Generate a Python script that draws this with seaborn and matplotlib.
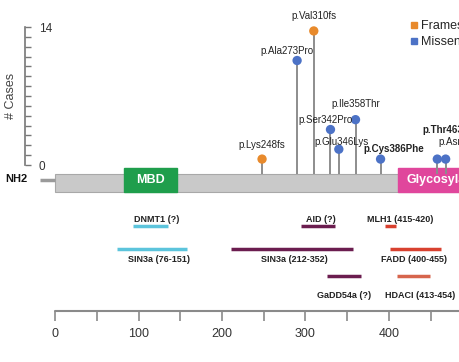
import matplotlib
matplotlib.use("Agg")
import matplotlib.pyplot as plt
from matplotlib.lines import Line2D
import seaborn as sns
import pandas as pd

## mutation data (amino acid position, number of cases)
mut_names = ["p.Lys248fs", "p.Ala273Pro", "p.Val310fs", "p.Ser342Pro", "p.Glu346Lys",
             "p.Ile358Thr", "p.Cys386Phe", "p.Thr463Met", "p.Asn473Ser"]
mut_pos = [248, 290, 310, 330, 340, 360, 390, 458, 468]
mut_cases = [1, 11, 14, 4, 2, 5, 1, 1, 1]
mut_type = ["Frameshift", "Missense", "Frameshift", "Missense", "Missense",
            "Missense", "Missense", "Missense", "Missense"]

## domains
dom_names = ["MBD", "Glycosylase"]
dom_start = [83, 411]
dom_end = [146, 620]

## interaction partners
int_names = ["DNMT1 (?)", "SIN3a (76-151)", "AID (?)", "SIN3a (212-352)", "GaDD54a (?)",
             "MLH1 (415-420)", "FADD (400-455)", "HDACI (413-454)"]
int_start = [93, 74, 295, 211, 326, 395, 401, 410]
int_end = [135, 158, 336, 357, 366, 408, 462, 449]
int_colors = ["#5cc4dc", "#5cc4dc", "#6b1d4f", "#6b1d4f", "#6b1d4f", "#d8412f", "#d8412f", "#d6654d"]

ruler_ticks = [0, 50, 100, 150, 200, 250, 300, 350, 400, 450]
ruler_labels = ["0", "", "100", "", "200", "", "300", "", "400", ""]

W, H = 459, 362
XL = (-66, 484)

sns.set_theme(style="white")
plt.rcParams['font.family'] = ['Liberation Sans', 'DejaVu Sans']

fig = plt.figure(figsize=(W / 100, H / 100), dpi=100)

## background axes in pixel-like rows
bg = fig.add_axes([0, 0, 1, 1])
bg.set_xlim(*XL)
bg.set_ylim(H, 0)
bg.axis("off")

# protein backbone
bg.plot([-18, 0], [180, 180], color="#9a9a9a", lw=2.5, solid_capstyle="butt")
bg.barh(183, 700, left=0, height=18, color="#c9c9c9", edgecolor="#a8a8a8", lw=0.8)
bg.text(-60, 179, "NH2", fontsize=8, fontweight="bold", va="center", ha="left", color="#111111")

dom_colors = ["#1f9e4c", "#e0469c"]
for n, s, e, c in zip(dom_names, dom_start, dom_end, dom_colors):
    bg.barh(180, e - s, left=s, height=24, color=c, edgecolor=c)
    if n == "MBD":
        bg.text((s + e) / 2, 180, n, color="white", fontsize=9, fontweight="bold", ha="center", va="center")
    else:
        bg.text(s + 10, 180, n, color="white", fontsize=9, fontweight="bold", ha="left", va="center")

# interaction lines
rows = [226, 249, 226, 249, 276, 226, 249, 276]
label_rows = [220, 259, 220, 259, 296, 220, 259, 296]
label_x = [122, 124, 318, 287, 346, 413, 430, 437]
for n, s, e, c, r, lr, lx in zip(int_names, int_start, int_end, int_colors, rows, label_rows, label_x):
    bg.plot([s, e], [r, r], color=c, lw=2.5, solid_capstyle="butt")
    bg.text(lx, lr, n, fontsize=6.5, fontweight="bold", ha="center", va="center", color="#222222")

# ruler
bg.plot([0, 600], [311, 311], color="#8a8a8a", lw=1.5)
bg.vlines(ruler_ticks, 311, 321, color="#8a8a8a", lw=1.2)
for t, l in zip(ruler_ticks, ruler_labels):
    bg.text(t, 334, l, fontsize=9, ha="center", va="center", color="#333333")

## lollipop axes
ax = fig.add_axes([0, 1 - 165 / H, 1, 138 / H])
ax.patch.set_alpha(0)
df = pd.DataFrame({"pos": mut_pos, "cases": mut_cases, "type": mut_type, "name": mut_names})
ax.vlines(df["pos"], -0.95, df["cases"] - 0.4, color="#8d8d8d", lw=1.4, clip_on=False)
palette = {"Frameshift": "#e88a2c", "Missense": "#4c72c6"}
sns.scatterplot(data=df.assign(cases=df["cases"] - 0.4), x="pos", y="cases", hue="type",
                palette=palette, s=45, edgecolor="none", legend=False, ax=ax, clip_on=False, zorder=3)
ax.set_xlim(*XL)
ax.set_ylim(0, 14)
ax.set_xlabel("")

# label offsets from head centre, in pixels (dx, dy, ha)
offsets = {"p.Lys248fs": (0, 14, "center"), "p.Ala273Pro": (-10, 10, "center"),
           "p.Val310fs": (0, 15, "center"), "p.Ser342Pro": (-5, 10, "center"),
           "p.Glu346Lys": (3, 7, "center"), "p.Ile358Thr": (0, 16, "center"),
           "p.Cys386Phe": (13, 10, "center"), "p.Thr463Met": (-15, 29, "left"),
           "p.Asn473Ser": (-7, 17, "left")}
for n, p, c in zip(mut_names, mut_pos, mut_cases):
    dx, dy, ha = offsets[n]
    bold = n in ("p.Cys386Phe", "p.Thr463Met")
    ax.annotate(n, (p, c - 0.4), xytext=(dx * 0.72, dy * 0.72), textcoords="offset points",
                ha=ha, va="center", fontsize=7, fontweight="bold" if bold else "normal",
                color="#222222", annotation_clip=False)

for sp in ["top", "right", "bottom"]:
    ax.spines[sp].set_visible(False)
ax.spines["left"].set_position(("data", -36))
ax.spines["left"].set_color("#777777")
ax.spines["left"].set_linewidth(1.2)
ax.set_yticks([0, 14])
ax.set_yticks(range(0, 15), minor=True)
ax.set_xticks([])
ax.tick_params(axis="y", which="both", direction="in", length=4, color="#777777", width=1,
               left=True, pad=-10, labelsize=8.5, labelcolor="#333333")
for lbl in ax.get_yticklabels():
    lbl.set_ha("left")
ax.set_ylabel("# Cases", fontsize=9, color="#444444", labelpad=0)
ax.yaxis.set_label_coords(17 / W, 0.5)

handles = [Line2D([], [], marker="s", ls="", color=palette[k], markersize=5) for k in palette]
fig.legend(handles, list(palette.keys()), loc="upper left", bbox_to_anchor=(401 / W, 1 - 14 / H),
           frameon=False, fontsize=9, handletextpad=0.1, labelspacing=0.3, borderpad=0,
           handlelength=1.0)

fig.savefig("out.png", dpi=100)
